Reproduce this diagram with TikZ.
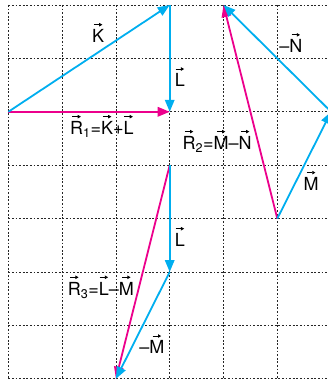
\documentclass[tikz,border=0pt]{standalone}
\usepackage{fontspec}
\setmainfont{TeX Gyre Heros}
\usetikzlibrary{arrows.meta}
\definecolor{vcyan}{RGB}{0,174,239}
\definecolor{vmag}{RGB}{236,0,140}
\newcommand{\vecarrow}{\tikz\draw[line width=0.8pt,-{Triangle[length=3.2pt,width=3.4pt]}] (0,0)--(8.5pt,0);}
\newcommand{\vv}[1]{\leavevmode\vbox{\offinterlineskip\halign{\hfil##\hfil\cr\vecarrow\cr\noalign{\kern3pt}#1\cr}}}
\begin{document}
\begin{tikzpicture}[x=53.8pt,y=53.4pt,
  gridline/.style={line width=0.8pt,dash pattern=on 1.8pt off 1.8pt,black!85},
  bluevec/.style={draw=vcyan,fill=vcyan,line width=1.8pt,-{Triangle[length=12pt,width=9.5pt]}},
  magvec/.style={draw=vmag,fill=vmag,line width=1.8pt,-{Triangle[length=12pt,width=9.5pt]}},
  lbl/.style={inner sep=0pt,font=\fontsize{18}{21}\selectfont}]
\useasboundingbox (-8.3pt,5pt) rectangle (319.7pt,-377pt);
% grid
\foreach \i in {0,...,6} {\draw[gridline] (\i,0) -- (\i,-7);}
\foreach \j in {0,...,7} {\draw[gridline] (0,-\j) -- (6.2,-\j);}
% points
\coordinate (pA) at (0,-2);
\coordinate (pB) at (3,0);
\coordinate (pC) at (3,-2);
\coordinate (pD) at (4,0);
\coordinate (pE) at (6,-2);
\coordinate (pF) at (5,-4);
\coordinate (pG) at (3,-3);
\coordinate (pH) at (3,-5);
\coordinate (pI) at (2,-7);
% resultants
\path[magvec] (pA) -- (pC);
\path[magvec] (pF) -- (pD);
\path[magvec] (pG) -- (pI);
% components
\path[bluevec] (pA) -- (pB);
\path[bluevec] (pB) -- (pC);
\path[bluevec] (pE) -- (pD);
\path[bluevec] (pF) -- (pE);
\path[bluevec] (pG) -- (pH);
\path[bluevec] (pH) -- (pI);
% labels
\node[lbl] (lK) at (1.67,-0.52) {\vv{K}};
\node[lbl] (lL1) at (3.19,-1.35) {\vv{L}};
\node[lbl] (lR1) at (1.74,-2.27) {\vv{R}\textsubscript{1}=\vv{K}+\vv{L}};
\node[lbl] (lN) at (5.25,-0.71) {–\vv{N}};
\node[lbl] (lR2) at (3.88,-2.55) {\vv{R}\textsubscript{2}=\vv{M}–\vv{N}};
\node[lbl] (lM) at (5.63,-3.29) {\vv{M}};
\node[lbl] (lL2) at (3.19,-4.34) {\vv{L}};
\node[lbl] (lR3) at (1.72,-5.28) {\vv{R}\textsubscript{3}=\vv{L}–\vv{M}};
\node[lbl] (lM2) at (2.67,-6.35) {–\vv{M}};
\end{tikzpicture}
\end{document}
